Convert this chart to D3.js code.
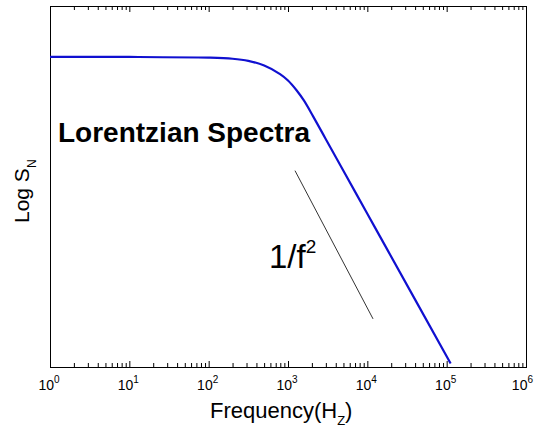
<!DOCTYPE html>
<html><head><meta charset="utf-8">
<script src="https://cdn.jsdelivr.net/npm/d3@7"></script>
<style>
body{margin:0;background:#fff;}
text{font-family:"Liberation Sans",Arial,sans-serif;fill:#000;}
</style></head>
<body><svg id="c" width="534" height="428"></svg>
<script>
// Data
const freqs = [1, 10, 100, 200, 316, 501, 794, 1000, 1288, 1585, 2065, 2951, 5012, 10000, 17783, 112200];
const logS  = [0, 0, -0.01, -0.025, -0.055, -0.12, -0.24, -0.33, -0.47, -0.61, -0.83, -1.14, -1.6, -2.2, -2.7, -4.3];
const refFreqs = [1225, 11800];
const refLogS  = [-1.595, -3.675];
const majorTicks = [1, 10, 100, 1000, 10000, 100000, 1000000];
const tickExponents = ["0", "1", "2", "3", "4", "5", "6"];
const xDomain = [1, 1e6];
const yDomain = [-4.35, 0.715];

const svg = d3.select("#c");
const L = 50, R = 526, T = 6, B = 367;
const x = d3.scaleLog().domain(xDomain).range([L, R]);
const y = d3.scaleLinear().domain(yDomain).range([B, T]);

const minorTicks = [];
for (let d = 0; d < 6; d++) for (let k = 2; k <= 9; k++) minorTicks.push(k * Math.pow(10, d));

function styleAxis(g){ g.select(".domain").remove(); g.selectAll("line").attr("stroke","#000").attr("stroke-width",1); g.selectAll("text").remove(); }

svg.append("g").attr("transform",`translate(0,${B})`)
  .call(d3.axisBottom(x).tickValues(majorTicks).tickSize(-6).tickFormat("")).call(styleAxis);
svg.append("g").attr("transform",`translate(0,${B})`)
  .call(d3.axisBottom(x).tickValues(minorTicks).tickSize(-4).tickFormat("")).call(styleAxis);
svg.append("g").attr("transform",`translate(0,${T})`)
  .call(d3.axisTop(x).tickValues(majorTicks).tickSize(-6).tickFormat("")).call(styleAxis);
svg.append("g").attr("transform",`translate(0,${T})`)
  .call(d3.axisTop(x).tickValues(minorTicks).tickSize(-4).tickFormat("")).call(styleAxis);

// tick labels
majorTicks.forEach((v,i)=>{
  const last = i === majorTicks.length - 1;
  const t = svg.append("text").attr("x", last ? 533 : x(v)-1).attr("y", 390)
    .attr("text-anchor", last ? "end" : "middle").style("font-size","14px");
  t.append("tspan").text("10");
  t.append("tspan").text(tickExponents[i]).attr("dy",-7).style("font-size","10px");
});

// frame
svg.append("rect").attr("x",L+0.5).attr("y",T+0.5).attr("width",R-L).attr("height",B-T)
  .attr("fill","none").attr("stroke","#000").attr("stroke-width",1);

// clip
svg.append("clipPath").attr("id","clip").append("rect").attr("x",L).attr("y",T).attr("width",R-L+1).attr("height",B-T+1);

const pts = freqs.map((f,i)=>[f, logS[i]]);
svg.append("path").datum(pts).attr("clip-path","url(#clip)")
  .attr("fill","none").attr("stroke","#1010d0").attr("stroke-width",2.2)
  .attr("d", d3.line().x(d=>x(d[0])).y(d=>y(d[1])).curve(d3.curveCatmullRom.alpha(0.5)));

const rpts = refFreqs.map((f,i)=>[f, refLogS[i]]);
svg.append("path").datum(rpts).attr("fill","none").attr("stroke","#333").attr("stroke-width",1)
  .attr("d", d3.line().x(d=>x(d[0])).y(d=>y(d[1])));

// annotations
svg.append("text").attr("x",58).attr("y",142).style("font-size","28px").style("font-weight","bold").text("Lorentzian Spectra");
const f2 = svg.append("text").attr("x",269).attr("y",268).style("font-size","33px");
f2.append("tspan").text("1/f");
f2.append("tspan").text("2").attr("dy",-15).style("font-size","19px");

// axis titles
const xt = svg.append("text").attr("x",210).attr("y",418).style("font-size","22px");
xt.append("tspan").text("Frequency(H");
xt.append("tspan").text("Z").attr("dy",7).style("font-size","13px");
xt.append("tspan").text(")").attr("dy",-7);

const yt = svg.append("text").attr("transform","translate(29,223) rotate(-90)").style("font-size","21px");
yt.append("tspan").text("Log S");
yt.append("tspan").text("N").attr("dy",7).style("font-size","12px");
</script></body></html>
